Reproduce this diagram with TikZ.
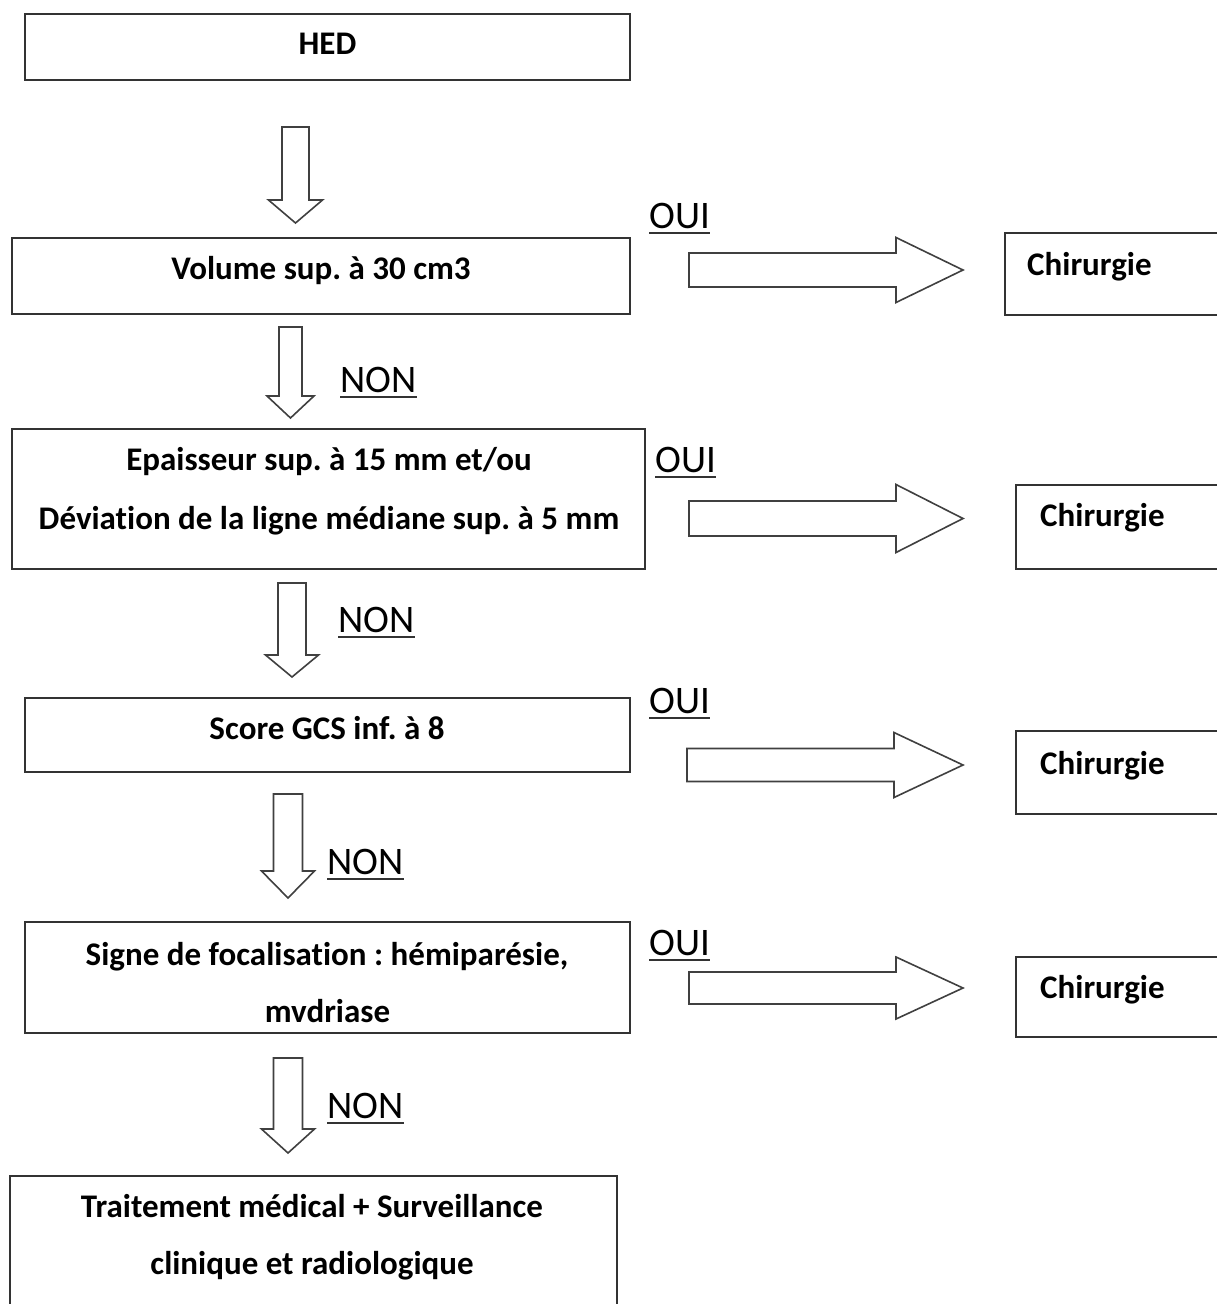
\documentclass[tikz,border=0pt]{standalone}
\usepackage{fontspec}
\setmainfont[Ligatures=NoCommon]{Carlito}
\frenchspacing
\newcommand\blkdown[6]{%
  \draw[blk] (#1-#5,#2) -- (#1+#5,#2) -- (#1+#5,#3) -- (#1+#6,#3) -- (#1,#4) -- (#1-#6,#3) -- (#1-#5,#3) -- cycle;}
\newcommand\blkright[4]{%
  \draw[blk] (#4,#1-#2) -- (#4+207,#1-#2) -- (#4+207,#1-#3) -- (963,#1) -- (#4+207,#1+#3) -- (#4+207,#1+#2) -- (#4,#1+#2) -- cycle;}
\begin{document}
\begin{tikzpicture}[x=1pt,y=-1pt,
  box/.style={draw=black!80, line width=2pt, inner sep=0pt},
  lbl/.style={font=\fontsize{33}{38}\selectfont\bfseries, inner sep=0pt, anchor=base},
  side/.style={font=\fontsize{33}{38}\selectfont\bfseries, inner sep=0pt, anchor=base west},
  yn/.style={font=\fontsize{39}{44}\selectfont, inner sep=0pt, anchor=base west},
  uline/.style={draw=black!80, line width=2pt},
  blk/.style={draw=black!75, line width=1.6pt, fill=white, line join=miter}]
\useasboundingbox[fill=white] (0,0) rectangle (1216,1304);

% left column boxes
\node[box, minimum width=605, minimum height=66] (hed) at (327.5,47) {};
\node[lbl] (hedt) at (327.5,54) {HED};

\node[box, minimum width=618, minimum height=76] (vol) at (321,276) {};
\node[lbl] (volt) at (321,279) {Volume sup. à 30 cm3};

\node[box, minimum width=633, minimum height=140] (epa) at (328.5,499) {};
\node[lbl] (epat1) at (329,470) {Epaisseur sup. à 15 mm et/ou};
\node[lbl] (epat2) at (329,529) {Déviation de la ligne médiane sup. à 5 mm};

\node[box, minimum width=605, minimum height=74] (gcs) at (327.5,735) {};
\node[lbl] (gcst) at (327,739) {Score GCS inf. à 8};

\node[box, minimum width=605, minimum height=111] (foc) at (327.5,977.5) {};
\node[lbl] (foct1) at (327,965) {Signe de focalisation : hémiparésie,};
\node[lbl] (foct2) at (327.5,1022) {mvdriase};

\node[box, minimum width=607, minimum height=150] (trt) at (313.5,1251) {};
\node[lbl] (trtt1) at (312,1217) {Traitement médical + Surveillance};
\node[lbl] (trtt2) at (312,1274) {clinique et radiologique};

% right column boxes
\node[box, minimum width=230, minimum height=82] (ch1) at (1120,274) {};
\node[side] (ch1t) at (1027,275) {Chirurgie};
\node[box, minimum width=220, minimum height=84] (ch2) at (1126,527) {};
\node[side] (ch2t) at (1040,526) {Chirurgie};
\node[box, minimum width=220, minimum height=83] (ch3) at (1126,772.5) {};
\node[side] (ch3t) at (1040,774) {Chirurgie};
\node[box, minimum width=220, minimum height=80] (ch4) at (1126,997) {};
\node[side] (ch4t) at (1040,998) {Chirurgie};

% down block arrows
\blkdown{295.5}{127}{200}{223}{13.5}{27}
\blkdown{290.5}{327}{396}{418}{11.5}{23.5}
\blkdown{292}{583}{655}{677}{14}{26.5}
\blkdown{288}{794}{871}{898}{14.5}{26.5}
\blkdown{288}{1058}{1129}{1153}{14.5}{26.5}

% right block arrows
\blkright{270}{17}{32.5}{689}
\blkright{518.5}{17.5}{34}{689}
\blkright{765}{16.5}{32.5}{687}
\blkright{988}{16}{31}{689}

% OUI / NON labels
\node[yn] (oui1) at (649,228) {OUI};
\node[yn] (oui2) at (655,472) {OUI};
\node[yn] (oui3) at (649,713) {OUI};
\node[yn] (oui4) at (649,955) {OUI};
\node[yn] (non1) at (340,392) {NON};
\node[yn] (non2) at (338,632) {NON};
\node[yn] (non3) at (327,874) {NON};
\node[yn] (non4) at (327,1118) {NON};
\foreach \n in {oui1,oui2,oui3,oui4,non1,non2,non3,non4}
  \draw[uline] ([yshift=-5pt]\n.base west) -- ([yshift=-5pt]\n.base east);
\end{tikzpicture}
\end{document}
